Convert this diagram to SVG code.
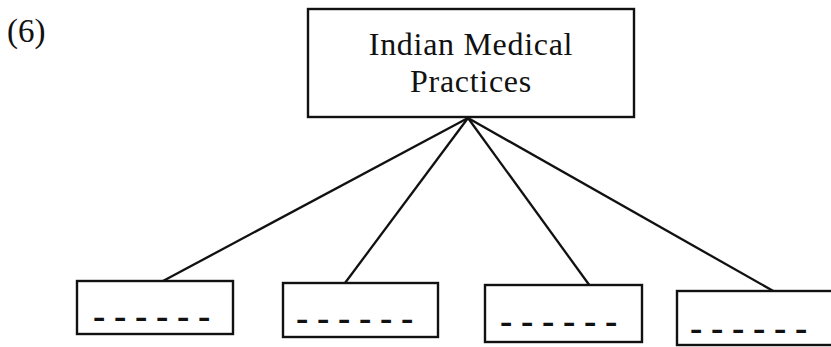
<svg xmlns="http://www.w3.org/2000/svg" width="831" height="347" viewBox="0 0 831 347">
<style>
.box{fill:#fff;stroke:#111;stroke-width:2.4}
.lbl{font-family:"Liberation Serif","Times New Roman",serif;fill:#111}
.t{font-size:32px;text-anchor:middle;letter-spacing:0.7px}
.d{font-size:37px;font-weight:bold;letter-spacing:8.7px}
.conn line{stroke:#111;stroke-width:2.3}
</style>
<rect width="831" height="347" fill="#fff"/>
<text class="lbl" x="7" y="42" font-size="33">(6)</text>
<g class="conn" id="connectors">
<line x1="468" y1="118" x2="163" y2="281"/>
<line x1="468" y1="118" x2="345" y2="283"/>
<line x1="468" y1="118" x2="590" y2="286"/>
<line x1="468" y1="118" x2="775" y2="292"/>
</g>
<g id="root">
<rect class="box" x="308" y="9" width="326" height="108"/>
<text class="lbl t" x="471" y="55">Indian Medical</text>
<text class="lbl t" x="471" y="92">Practices</text>
</g>
<g id="child1">
<rect class="box" x="77" y="281" width="156" height="53"/>
<text class="lbl d" x="93" y="328">------</text>
</g>
<g id="child2">
<rect class="box" x="283" y="283" width="155" height="54"/>
<text class="lbl d" x="296" y="330">------</text>
</g>
<g id="child3">
<rect class="box" x="485" y="285" width="157" height="57"/>
<text class="lbl d" x="500" y="333">------</text>
</g>
<g id="child4">
<rect class="box" x="677" y="291" width="170" height="54"/>
<text class="lbl d" x="690" y="340">------</text>
</g>
</svg>
